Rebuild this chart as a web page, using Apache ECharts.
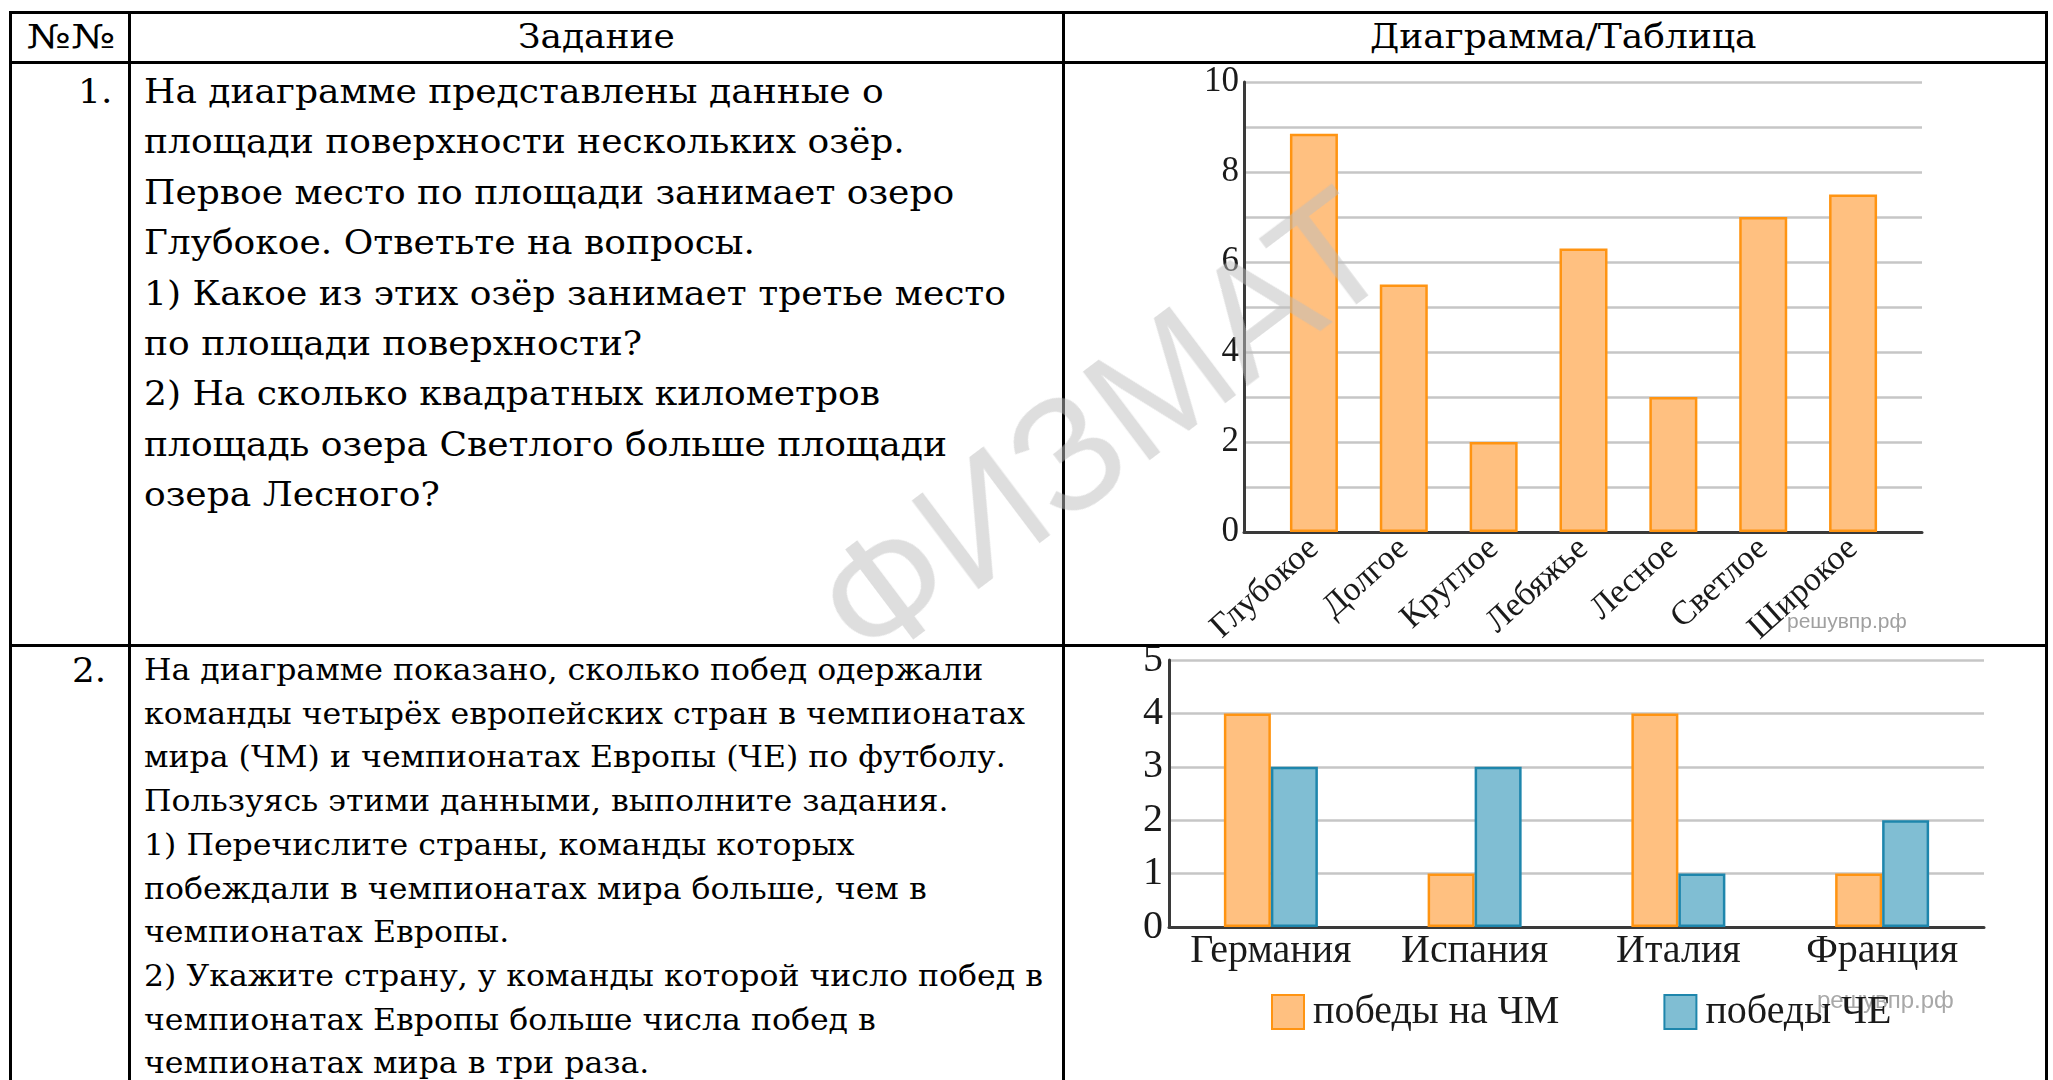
<!DOCTYPE html>
<html lang="ru">
<head>
<meta charset="utf-8">
<title>Диаграмма/Таблица</title>
<script src="https://cdn.jsdelivr.net/npm/echarts@6/dist/echarts.min.js"></script>
<style>
html, body { margin: 0; padding: 0; background: #fff; }
body { width: 2053px; height: 1080px; position: relative; overflow: hidden; font-family: "DejaVu Serif", serif; color: #000; }
.ln { position: absolute; background: #000; }
.txt { position: absolute; white-space: nowrap; transform-origin: 0 50%; }
.chart { position: absolute; }
.wm { position: absolute; white-space: nowrap; font-family: "Liberation Sans", sans-serif; font-size: 162px;
      color: rgba(190,190,190,0.5); pointer-events: none; z-index: 10; }
</style>
</head>
<body>
<div id="table"></div>
<div class="chart" id="chartLakes" style="left:1065px; top:64px; width:979px; height:579px;"></div>
<div class="chart" id="chartWins" style="left:1065px; top:647px; width:979px; height:433px;"></div>
<div class="wm" id="wm">ФИЗМАТ</div>

<script>
// ---- данные ----
const lakes = ['Глубокое', 'Долгое', 'Круглое', 'Лебяжье', 'Лесное', 'Светлое', 'Широкое']
const lakeArea = [8.85, 5.5, 2, 6.3, 3, 7, 7.5]

const countries = ['Германия', 'Испания', 'Италия', 'Франция']
const winsWorld = [4, 1, 4, 1]
const winsEuro = [3, 3, 1, 2]
const winsNames = ['победы на ЧМ', 'победы ЧЕ']

const headers = ['№№', 'Задание', 'Диаграмма/Таблица']
const task1 = [
  'На диаграмме представлены данные о',
  'площади поверхности нескольких озёр.',
  'Первое место по площади занимает озеро',
  'Глубокое. Ответьте на вопросы.',
  '1) Какое из этих озёр занимает третье место',
  'по площади поверхности?',
  '2) На сколько квадратных километров',
  'площадь озера Светлого больше площади',
  'озера Лесного?'
]
const task2 = [
  'На диаграмме показано, сколько побед одержали',
  'команды четырёх европейских стран в чемпионатах',
  'мира (ЧМ) и чемпионатах Европы (ЧЕ) по футболу.',
  'Пользуясь этими данными, выполните задания.',
  '1) Перечислите страны, команды которых',
  'побеждали в чемпионатах мира больше, чем в',
  'чемпионатах Европы.',
  '2) Укажите страну, у команды которой число побед в',
  'чемпионатах Европы больше числа побед в',
  'чемпионатах мира в три раза.'
]

// ---- таблица ----
const table = document.getElementById('table')
function line(x, y, w, h) {
  let d = document.createElement('div')
  d.className = 'ln'
  d.style.cssText = `left:${x}px;top:${y}px;width:${w}px;height:${h}px;`
  table.appendChild(d)
}
line(9, 11, 2039, 3)      // верх
line(9, 61, 2039, 3)      // под шапкой
line(9, 644, 2039, 3)     // между строками
line(9, 11, 3, 1069)      // слева
line(128, 11, 3, 1069)
line(1062, 11, 3, 1069)
line(2045, 11, 3, 1069)   // справа

function text(str, x, cy, size, lh) {
  let d = document.createElement('div')
  d.className = 'txt'
  d.textContent = str
  d.style.cssText = `left:${x}px;top:${cy - lh / 2}px;font-size:${size}px;line-height:${lh}px;`
  table.appendChild(d)
  return d
}

let row1 = task1.map((s, i) => text(s, 144, 92 + 50.4 * i, 33, 50))
let row2 = task2.map((s, i) => text(s, 144, 670 + 43.7 * i, 30, 44))
let num1 = text('1.', 0, 92, 33, 50)
let num2 = text('2.', 0, 670, 34, 44)
let head = headers.map(s => text(s, 0, 37, 33, 50))

// растягиваем строки по ширине оригинала
function fit(lines, ref, target) {
  let k = target / lines[ref].getBoundingClientRect().width
  lines.forEach(el => el.style.transform = `scaleX(${k})`)
  return k
}
let k1 = fit(row1, 4, 862)
let k2 = fit(row2, 7, 899)

function placeRight(el, right, k) {
  let w = el.getBoundingClientRect().width
  el.style.left = (right - w * k) + 'px'
  el.style.transform = `scaleX(${k})`
}
function placeCenter(el, cx, k) {
  let w = el.getBoundingClientRect().width
  el.style.left = (cx - w * k / 2) + 'px'
  el.style.transform = `scaleX(${k})`
}
placeRight(num1, 112, k1)
placeRight(num2, 106, k2)
placeCenter(head[0], 70.5, 89 / head[0].getBoundingClientRect().width)
placeCenter(head[1], 596, k1)
placeCenter(head[2], 1563, k1)

// водяной знак
const wm = document.getElementById('wm')
wm.style.left = '1102px'
wm.style.top = '426px'
wm.style.transform = 'translate(-50%, -50%) rotate(-37deg)'

// ---- графики ----
const serif = "'Liberation Serif', serif"
const axisColor = '#3a3a3a'
const gridColor = '#c6c6c6'
const orange = { color: '#FFC080', borderColor: '#FF9412', borderWidth: 2.5 }
const blue = { color: '#80BED3', borderColor: '#1E86AC', borderWidth: 2.5 }

let chartLakes = echarts.init(document.getElementById('chartLakes'))
let chartWins = echarts.init(document.getElementById('chartWins'))

let optionLakes = {
  animation: false,
  backgroundColor: 'transparent',
  textStyle: { fontFamily: serif },
  grid: [
    { left: 179, top: 18, width: 678, height: 450, outerBoundsMode: 'none' },  // линии сетки
    { left: 204, top: 18, width: 629, height: 450, outerBoundsMode: 'none' }   // столбцы
  ],
  xAxis: [
    {
      gridIndex: 0, type: 'value', min: 0, max: 1,
      axisLine: { show: true, onZero: false, lineStyle: { color: axisColor, width: 3 } },
      axisTick: { show: false }, axisLabel: { show: false }, splitLine: { show: false }
    },
    {
      gridIndex: 1, type: 'category', data: lakes,
      axisLine: { show: false }, axisTick: { show: false },
      axisLabel: { interval: 0, rotate: 42, margin: 12, fontFamily: serif, fontSize: 34, color: '#1a1a1a' }
    }
  ],
  yAxis: [
    {
      gridIndex: 0, type: 'value', min: 0, max: 10, interval: 1,
      axisLine: { show: true, lineStyle: { color: axisColor, width: 3 } },
      axisTick: { show: false },
      axisLabel: { margin: 5, fontFamily: serif, fontSize: 35, color: '#1a1a1a',
        formatter: v => (v % 2 === 0 ? String(v) : '') },
      splitLine: { show: true, lineStyle: { color: gridColor, width: 2.5 } }
    },
    { gridIndex: 1, type: 'value', min: 0, max: 10, show: false }
  ],
  series: [{
    type: 'bar', xAxisIndex: 1, yAxisIndex: 1,
    data: lakeArea, barWidth: 48, itemStyle: orange
  }],
  graphic: [{
    type: 'text', left: 722, top: 548, z: -1,
    style: { text: 'решувпр.рф', fill: '#a0a0a0', font: '21px "Liberation Sans"' }
  }]
}

let optionWins = {
  animation: false,
  backgroundColor: 'transparent',
  textStyle: { fontFamily: serif },
  grid: { left: 104, top: 13, width: 815, height: 267, outerBoundsMode: 'none' },
  legend: {
    data: winsNames, left: 201, top: 340, icon: 'rect',
    itemWidth: 32, itemHeight: 34, itemGap: 104,
    textStyle: { fontFamily: serif, fontSize: 40, color: '#1a1a1a', padding: [0, 0, 0, 4] }
  },
  xAxis: {
    type: 'category', data: countries,
    axisLine: { lineStyle: { color: axisColor, width: 3 } },
    axisTick: { show: false },
    axisLabel: { interval: 0, margin: 4, fontFamily: serif, fontSize: 40, color: '#1a1a1a' }
  },
  yAxis: {
    type: 'value', min: 0, max: 5, interval: 1,
    axisLine: { show: true, lineStyle: { color: axisColor, width: 3 } },
    axisTick: { show: false },
    axisLabel: { margin: 6, fontFamily: serif, fontSize: 40, color: '#1a1a1a' },
    splitLine: { show: true, lineStyle: { color: gridColor, width: 2.5 } }
  },
  series: [
    { name: winsNames[0], type: 'bar', data: winsWorld, barWidth: 47, barGap: '0%', itemStyle: orange },
    { name: winsNames[1], type: 'bar', data: winsEuro, barWidth: 47, barGap: '0%', itemStyle: blue }
  ],
  graphic: [{
    type: 'text', left: 752, top: 342, z: -1,
    style: { text: 'решувпр.рф', fill: '#a8a8a8', font: '24px "Liberation Sans"' }
  }]
}

chartLakes.setOption(optionLakes)
chartWins.setOption(optionWins)
</script>
</body>
</html>
